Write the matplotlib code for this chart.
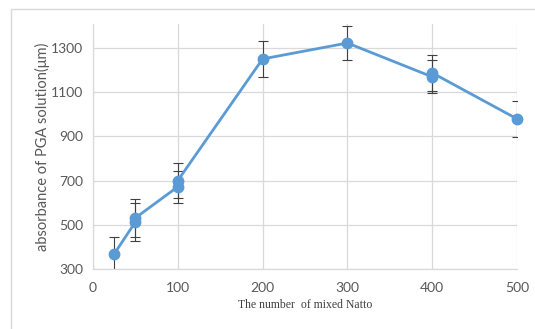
import matplotlib
matplotlib.use("Agg")
import matplotlib.pyplot as plt
from matplotlib.patches import Rectangle

# Natto count vs. PGA absorbance (replicate points share an x value)
natto_count = [25, 50, 50, 100, 100, 200, 300, 400, 400, 500]
absorbance = [368, 513, 531, 672, 700, 1250, 1322, 1169, 1187, 979]
abs_error = [75, 85, 85, 72, 78, 80, 75, 75, 80, 80]

x_ticks = [0, 100, 200, 300, 400, 500]
y_ticks = [300, 500, 700, 900, 1100, 1300]

W, H = 535, 329
fig = plt.figure(figsize=(W / 100, H / 100), dpi=100)

# chart frame
fig.patches.append(Rectangle((11 / W, -0.1), 1.2, 1 - 9 / H + 0.1,
                             transform=fig.transFigure, fill=False,
                             edgecolor="#d9d9d9", linewidth=1.0))

ax = fig.add_axes([93 / W, 1 - 269 / H, (517 - 93) / W, (269 - 24) / H])

blue = "#5b9bd5"
ax.errorbar(natto_count, absorbance, yerr=abs_error, fmt="none",
            ecolor="#404040", elinewidth=0.8, capsize=3.5, capthick=0.8,
            zorder=2)
ax.plot(natto_count, absorbance, color=blue, linewidth=2.0, marker="o",
        markersize=7.5, markerfacecolor=blue, markeredgecolor=blue,
        zorder=3, clip_on=False)

ax.set_xlim(0, 500)
ax.set_ylim(300, 1408)
ax.set_xticks(x_ticks)
ax.set_yticks(y_ticks)
ax.grid(True, color="#d9d9d9", linewidth=0.9)
ax.set_axisbelow(True)

for side in ("top", "right"):
    ax.spines[side].set_visible(False)
for side in ("left", "bottom"):
    ax.spines[side].set_color("#d9d9d9")
    ax.spines[side].set_linewidth(0.9)

ax.tick_params(length=0, labelsize=10, labelcolor="#595959")
ax.tick_params(axis="y", pad=7)
ax.tick_params(axis="x", pad=9)
for lab in ax.get_xticklabels() + ax.get_yticklabels():
    lab.set_family("Lato")

ax.set_ylabel("absorbance of PGA solution(\u03bcm)", fontsize=10.5,
              color="#595959", family="Lato", labelpad=1)
fig.text(305 / W, 1 - 305 / H, "The number  of mixed Natto", fontsize=8.5,
         color="#404040", family="Liberation Serif", ha="center", va="center")

fig.savefig("out.png", dpi=100)
